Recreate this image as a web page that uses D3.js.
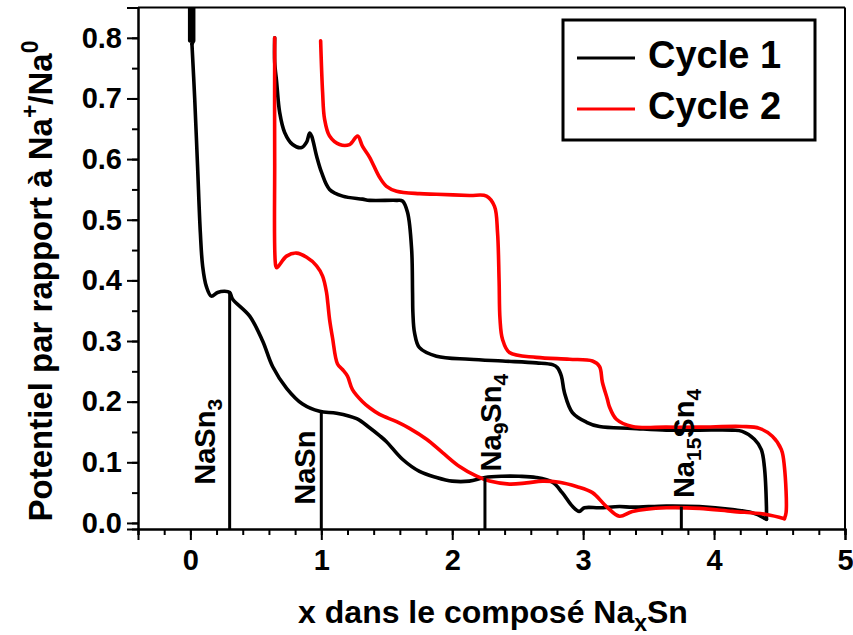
<!DOCTYPE html>
<html>
<head>
<meta charset="utf-8">
<script src="https://cdn.jsdelivr.net/npm/d3@7/dist/d3.min.js"></script>
<style>
  html, body { margin: 0; padding: 0; background: #fff; }
  svg text { font-family: "Liberation Sans", Arial, Helvetica, sans-serif; font-weight: bold; fill: #000; }
</style>
</head>
<body>
<svg id="chart" width="853" height="635"></svg>
<script>
// ---------------- DATA ----------------
const xDomain = [-0.4, 5];
const yDomain = [-0.01, 0.85];
const xMajorTicks = [0, 1, 2, 3, 4, 5];
const yMajorTicks = [0.0, 0.1, 0.2, 0.3, 0.4, 0.5, 0.6, 0.7, 0.8];

// Cycle 1 : open-circuit relaxation at x = 0 (noisy start)
const c1RestX = [-0.005, -0.005, 0.01, 0.01, 0.025, 0.025, 0.012];
const c1RestY = [0.85, 0.795, 0.85, 0.795, 0.85, 0.795, 0.79];
// Cycle 1 : first discharge (sodiation)
const c1DischargeX = [0.012, 0.033, 0.055, 0.076, 0.094, 0.122, 0.16, 0.208, 0.262, 0.30, 0.323, 0.453, 0.552, 0.628, 0.735, 0.857, 0.987, 1.117, 1.27, 1.369, 1.445, 1.498, 1.62, 1.75, 1.88, 2.0, 2.13, 2.25, 2.38, 2.51, 2.64, 2.766, 2.84, 2.92, 2.97, 3.01, 3.125, 3.277, 3.376, 3.636, 3.888, 4.14, 4.29, 4.40];
const c1DischargeY = [0.79, 0.70, 0.588, 0.479, 0.423, 0.39, 0.374, 0.38, 0.382, 0.38, 0.369, 0.341, 0.30, 0.258, 0.222, 0.196, 0.184, 0.181, 0.172, 0.157, 0.144, 0.134, 0.105, 0.085, 0.075, 0.069, 0.069, 0.075, 0.077, 0.077, 0.075, 0.067, 0.05, 0.027, 0.019, 0.025, 0.025, 0.027, 0.026, 0.028, 0.027, 0.022, 0.017, 0.006];
// Cycle 1 : charge (desodiation)
const c1ChargeX = [4.40, 4.40, 4.384, 4.361, 4.308, 4.215, 4.14, 3.888, 3.636, 3.376, 3.125, 3.026, 2.918, 2.857, 2.834, 2.804, 2.766, 2.643, 2.384, 2.132, 1.88, 1.75, 1.712, 1.70, 1.697, 1.69, 1.659, 1.62, 1.575, 1.369, 1.315, 1.163, 1.063, 1.002, 0.964, 0.926, 0.911, 0.888, 0.85, 0.781, 0.72, 0.682, 0.659, 0.644, 0.644];
const c1ChargeY = [0.006, 0.027, 0.093, 0.121, 0.138, 0.151, 0.153, 0.153, 0.153, 0.156, 0.159, 0.166, 0.182, 0.215, 0.242, 0.256, 0.261, 0.264, 0.267, 0.27, 0.275, 0.289, 0.314, 0.345, 0.38, 0.451, 0.512, 0.531, 0.532, 0.532, 0.534, 0.539, 0.55, 0.578, 0.605, 0.638, 0.643, 0.628, 0.619, 0.624, 0.644, 0.677, 0.727, 0.76, 0.80];
// Cycle 2 : discharge
const c2DischargeX = [0.644, 0.644, 0.652, 0.66, 0.735, 0.811, 0.888, 0.964, 1.01, 1.04, 1.05, 1.063, 1.086, 1.124, 1.162, 1.2, 1.238, 1.315, 1.369, 1.445, 1.575, 1.674, 1.804, 1.926, 2.056, 2.186, 2.285, 2.437, 2.567, 2.689, 2.819, 2.949, 3.071, 3.178, 3.277, 3.376, 3.636, 3.888, 4.14, 4.40, 4.537];
const c2DischargeY = [0.80, 0.60, 0.424, 0.421, 0.44, 0.445, 0.438, 0.424, 0.407, 0.38, 0.362, 0.336, 0.305, 0.262, 0.253, 0.242, 0.22, 0.2, 0.19, 0.179, 0.167, 0.156, 0.138, 0.116, 0.093, 0.077, 0.069, 0.064, 0.066, 0.069, 0.067, 0.06, 0.05, 0.027, 0.011, 0.019, 0.025, 0.024, 0.019, 0.014, 0.007];
// Cycle 2 : charge
const c2ChargeX = [4.537, 4.55, 4.537, 4.514, 4.445, 4.346, 4.215, 3.888, 3.636, 3.376, 3.254, 3.2, 3.185, 3.147, 3.125, 3.071, 2.895, 2.643, 2.437, 2.384, 2.365, 2.358, 2.346, 2.323, 2.262, 2.132, 1.88, 1.75, 1.575, 1.498, 1.445, 1.369, 1.315, 1.277, 1.216, 1.14, 1.063, 1.025, 1.01, 0.995];
const c2ChargeY = [0.007, 0.017, 0.093, 0.121, 0.143, 0.156, 0.159, 0.158, 0.158, 0.159, 0.171, 0.192, 0.204, 0.232, 0.258, 0.267, 0.27, 0.273, 0.281, 0.303, 0.336, 0.40, 0.479, 0.522, 0.539, 0.54, 0.542, 0.543, 0.547, 0.555, 0.57, 0.603, 0.621, 0.638, 0.624, 0.624, 0.638, 0.666, 0.71, 0.795];

// Phase markers (composition x, potential where the marker line meets the curve)
const phaseNames = [["NaSn", "3"], ["NaSn", ""], ["Na", "9", "Sn", "4"], ["Na", "15", "Sn", "4"]];
const phaseX = [0.3, 1.0, 2.25, 3.75];
const phaseTopY = [0.38, 0.184, 0.075, 0.027];
const phaseLabelStartY = [0.063, 0.030, 0.085, 0.041];

const seriesNames = ["Cycle 1", "Cycle 2"];
const seriesColors = ["#000000", "#ff0000"];

// ---------------- LAYOUT ----------------
const svg = d3.select("#chart");
const L = 138, R = 845, T = 7.5, B = 529;
const x = d3.scaleLinear().domain(xDomain).range([L, R]);
const y = d3.scaleLinear().domain(yDomain).range([B, T]);

svg.append("defs").append("clipPath").attr("id", "plotclip")
  .append("rect").attr("x", L).attr("y", T).attr("width", R - L).attr("height", B - T);

// frame (top & right)
svg.append("line").attr("x1", L).attr("x2", R).attr("y1", T).attr("y2", T).attr("stroke", "#000").attr("stroke-width", 2);
svg.append("line").attr("x1", R).attr("x2", R).attr("y1", T).attr("y2", B).attr("stroke", "#000").attr("stroke-width", 2);

// X axis
const xMinor = d3.range(-0.4, 5.0001, 0.2).map(v => +v.toFixed(2));
const gxm = svg.append("g").attr("transform", `translate(0,${B})`)
  .call(d3.axisBottom(x).tickValues(xMinor).tickSize(6).tickFormat(""));
const gx = svg.append("g").attr("transform", `translate(0,${B})`)
  .call(d3.axisBottom(x).tickValues(xMajorTicks).tickSize(11).tickPadding(9).tickFormat(d3.format("d")));
// Y axis
const yMinor = d3.range(0, 0.8501, 0.05).map(v => +v.toFixed(2));
const gym = svg.append("g").attr("transform", `translate(${L},0)`)
  .call(d3.axisLeft(y).tickValues(yMinor).tickSize(6).tickFormat(""));
const gy = svg.append("g").attr("transform", `translate(${L},0)`)
  .call(d3.axisLeft(y).tickValues(yMajorTicks).tickSize(11).tickPadding(5).tickFormat(d3.format(".1f")));

[gxm, gx, gym, gy].forEach(g => {
  g.select(".domain").attr("stroke", "#000").attr("stroke-width", 2);
  g.selectAll(".tick line").attr("stroke", "#000").attr("stroke-width", 2);
});
[gx, gy].forEach(g => g.selectAll(".tick text")
  .style("font-size", "29px").style("font-family", "'Liberation Sans', Arial, sans-serif").style("font-weight", "bold"));

// curves
const smooth = d3.line().x(d => x(d[0])).y(d => y(d[1])).curve(d3.curveCatmullRom.alpha(0.5));
const straight = d3.line().x(d => x(d[0])).y(d => y(d[1]));
const plot = svg.append("g").attr("clip-path", "url(#plotclip)");
const curves = [
  { xs: c1RestX, ys: c1RestY, c: 0, gen: straight },
  { xs: c1DischargeX, ys: c1DischargeY, c: 0, gen: smooth },
  { xs: c1ChargeX, ys: c1ChargeY, c: 0, gen: smooth },
  { xs: c2DischargeX, ys: c2DischargeY, c: 1, gen: smooth },
  { xs: c2ChargeX, ys: c2ChargeY, c: 1, gen: smooth }
];
curves.forEach(cv => {
  plot.append("path").datum(d3.zip(cv.xs, cv.ys))
    .attr("d", cv.gen).attr("fill", "none")
    .attr("stroke", seriesColors[cv.c]).attr("stroke-width", 3.6)
    .attr("stroke-linejoin", "round").attr("stroke-linecap", "round");
});

// phase marker lines + labels
const labelDx = [-15, -6, 16, 13];
phaseX.forEach((px, i) => {
  svg.append("line").attr("x1", x(px)).attr("x2", x(px))
    .attr("y1", y(phaseTopY[i])).attr("y2", B)
    .attr("stroke", "#000").attr("stroke-width", 3);
  const tx = x(px) + labelDx[i], ty = y(phaseLabelStartY[i]);
  const t = svg.append("text").attr("transform", `translate(${tx},${ty}) rotate(-90)`)
    .style("font-size", "29px");
  const parts = phaseNames[i];
  parts.forEach((p, j) => {
    if (!p) return;
    const isSub = j % 2 === 1;
    const ts = t.append("tspan").text(p);
    if (isSub) ts.style("font-size", "21px").attr("dy", 7);
    else if (j > 0) ts.attr("dy", -7);
  });
});

// axis titles
const xt = svg.append("text").attr("x", 493).attr("y", 623).attr("text-anchor", "middle").style("font-size", "32px");
xt.append("tspan").text("x dans le composé Na");
xt.append("tspan").text("x").style("font-size", "23px").attr("dy", 8);
xt.append("tspan").text("Sn").attr("dy", -8);

const yt = svg.append("text").attr("transform", "translate(52,281) rotate(-90)").attr("text-anchor", "middle").style("font-size", "33px");
yt.append("tspan").text("Potentiel par rapport à Na");
yt.append("tspan").text("+").style("font-size", "23px").attr("dy", -14);
yt.append("tspan").text("/Na").attr("dy", 14);
yt.append("tspan").text("0").style("font-size", "23px").attr("dy", -14);

// legend
const lg = svg.append("g");
lg.append("rect").attr("x", 563).attr("y", 20).attr("width", 252).attr("height", 120)
  .attr("fill", "#fff").attr("stroke", "#000").attr("stroke-width", 3);
seriesNames.forEach((n, i) => {
  const ly = 58 + i * 51;
  lg.append("line").attr("x1", 577).attr("x2", 635).attr("y1", ly).attr("y2", ly)
    .attr("stroke", seriesColors[i]).attr("stroke-width", 3.2);
  lg.append("text").attr("x", 648).attr("y", ly + 9.5).style("font-size", "38px").text(n);
});
</script>
</body>
</html>
